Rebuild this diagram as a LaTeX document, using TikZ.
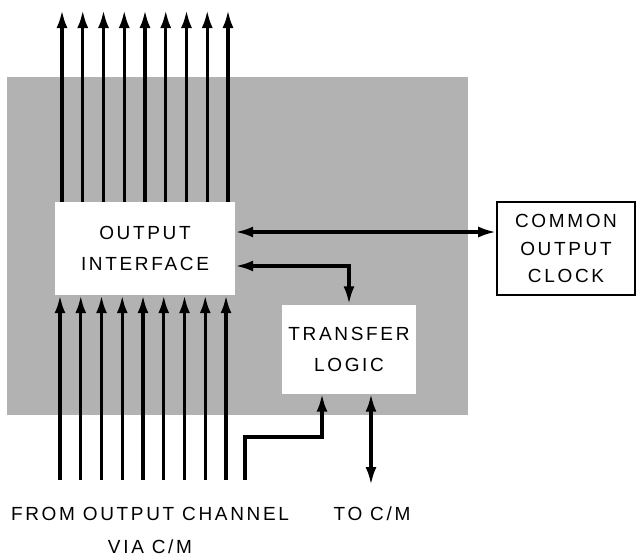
\documentclass[tikz,border=0pt]{standalone}
\usepackage{fontspec}
\setmainfont{Liberation Sans}[LetterSpace=14]
\usetikzlibrary{arrows.meta,positioning,calc}

\begin{document}
\begin{tikzpicture}[x=1pt, y=-1pt,
  whitebox/.style={rectangle, fill=white, inner sep=0pt, align=center, font=\fontsize{19}{31}\selectfont},
  clockbox/.style={rectangle, draw=black, line width=1.6pt, fill=white, inner sep=0pt, align=center, font=\fontsize{19}{27.5}\selectfont},
  sig/.style={line width=3.3pt, -{Latex[length=18pt,width=11pt]}},
  sigboth/.style={line width=3.3pt, {Latex[length=18pt,width=11pt]}-{Latex[length=18pt,width=11pt]}},
  caption/.style={align=center, font=\fontsize{19}{33}\selectfont},
]
\useasboundingbox (0,0) rectangle (636,557);

% Shaded board
\fill[black!30] (7,77) rectangle (468,415);

% Nodes
\node[whitebox, minimum width=180pt, minimum height=93pt] (interface) at (145,248.5) {OUTPUT\\INTERFACE};
\node[whitebox, minimum width=134pt, minimum height=89pt] (transfer) at (349,349) {TRANSFER\\LOGIC};
\node[clockbox, minimum width=138pt, minimum height=93pt] (clock) at (566,248.5) {COMMON\\OUTPUT\\CLOCK};

% Text labels
\node[caption] (fromlabel) at (150,530) {FROM OUTPUT CHANNEL\\VIA C/M};
\node[caption] (tolabel) at (372,514) {TO C/M};

% Lines
\foreach \i in {0,...,8} {
  \coordinate (out\i) at ({62+20.75*\i},10);
  \draw[sig] (interface.north -| out\i) -- (out\i);
  \coordinate (in\i) at ({60+20.75*\i},480);
  \draw[sig] (in\i) -- (in\i |- interface.south);
}
\draw[sigboth] ([yshift=16.5pt]interface.east) -- ([yshift=16.5pt]clock.west);
\draw[sigboth] ([yshift=-17.5pt]interface.east) -| (transfer.north);
\coordinate (feed) at (245,480);
\draw[sig] (feed) -- (245,437) -| ([xshift=-27pt]transfer.south);
\coordinate (cm) at (371,485);
\draw[sigboth] ([xshift=22pt]transfer.south) -- (cm);

\end{tikzpicture}
\end{document}
